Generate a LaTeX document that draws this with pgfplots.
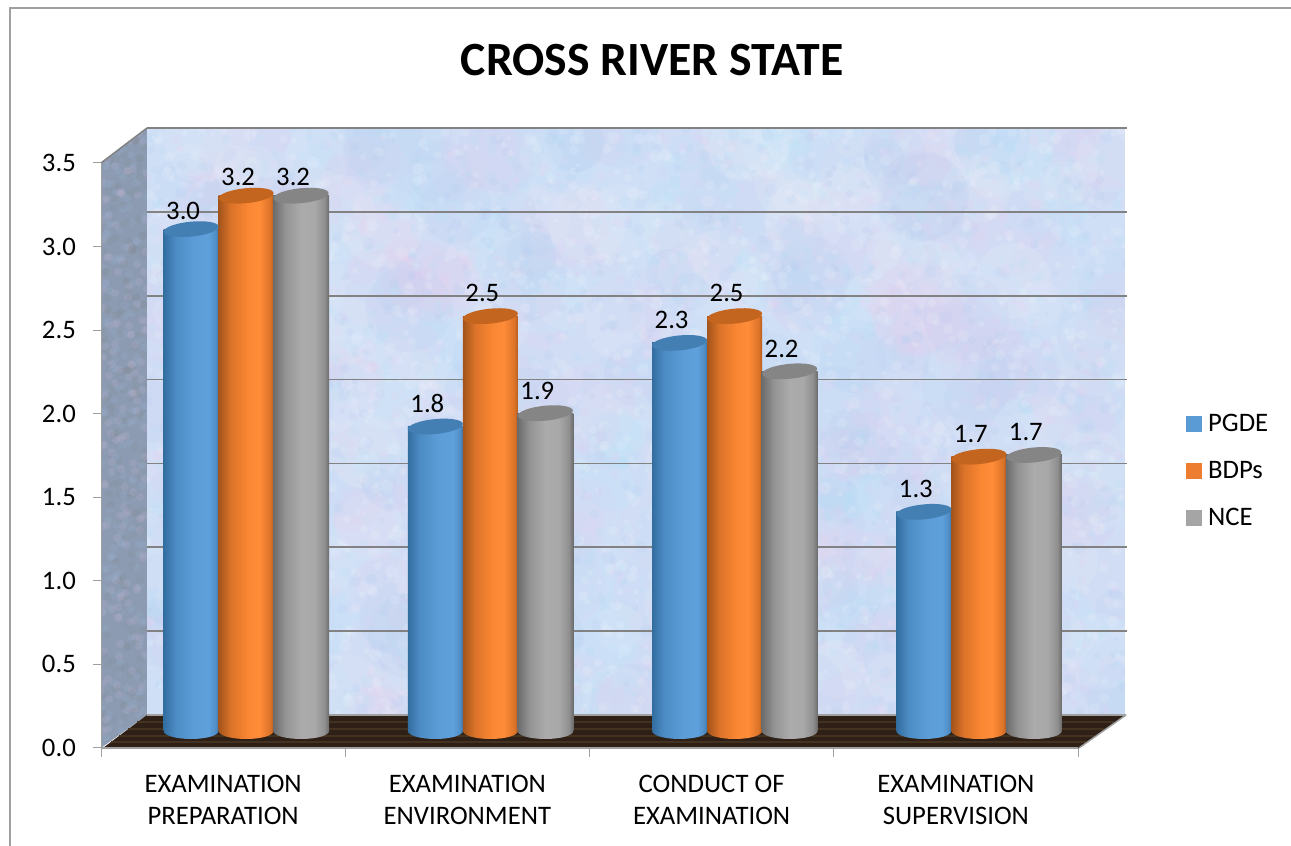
\documentclass[border=0pt]{standalone}
\usepackage{fontspec}
\setmainfont{Carlito}
\usepackage{pgfplots}
\usepackage{pgfplotstable}
\pgfplotsset{compat=1.18}
\definecolor{tickgray}{HTML}{A0A0A0}
\definecolor{gridgray}{HTML}{828282}
\definecolor{wallbase}{HTML}{CFDFF6}
\definecolor{wallcyan}{HTML}{ACE4F8}
\definecolor{wallpink}{HTML}{F0CDF0}
\definecolor{wallblue}{HTML}{A9C6F0}
\definecolor{sidebase}{HTML}{8C9BB2}
\definecolor{floorbrown}{HTML}{2E2016}
\definecolor{floorline}{HTML}{43321F}
\definecolor{legblue}{HTML}{5B9BD5}
\definecolor{legorange}{HTML}{ED7D31}
\definecolor{leggray}{HTML}{A5A5A5}
\definecolor{topblue}{HTML}{447FB4}
\definecolor{toporange}{HTML}{C4651F}
\definecolor{topgray}{HTML}{858585}
\pgfdeclarehorizontalshading{cylblue}{100bp}{
  rgb(0bp)=(0.20,0.43,0.63); rgb(25bp)=(0.20,0.43,0.63); rgb(36bp)=(0.30,0.55,0.77); rgb(52bp)=(0.36,0.61,0.84); rgb(66bp)=(0.37,0.63,0.86); rgb(72bp)=(0.32,0.56,0.78); rgb(75bp)=(0.24,0.47,0.67); rgb(100bp)=(0.24,0.47,0.67)}
\pgfdeclarehorizontalshading{cylorange}{100bp}{
  rgb(0bp)=(0.64,0.33,0.11); rgb(25bp)=(0.64,0.33,0.11); rgb(36bp)=(0.86,0.45,0.16); rgb(52bp)=(0.98,0.53,0.20); rgb(62bp)=(1.0,0.55,0.22); rgb(72bp)=(0.86,0.45,0.16); rgb(75bp)=(0.70,0.36,0.12); rgb(100bp)=(0.70,0.36,0.12)}
\pgfdeclarehorizontalshading{cylgray}{100bp}{
  rgb(0bp)=(0.42,0.42,0.42); rgb(25bp)=(0.42,0.42,0.42); rgb(36bp)=(0.58,0.58,0.58); rgb(50bp)=(0.67,0.67,0.67); rgb(62bp)=(0.66,0.66,0.66); rgb(71bp)=(0.56,0.56,0.56); rgb(75bp)=(0.42,0.42,0.42); rgb(100bp)=(0.42,0.42,0.42)}
\pgfdeclareplotmark{botblue}{\pgfpathellipse{\pgfpointorigin}{\pgfqpoint{27.5pt}{0pt}}{\pgfqpoint{0pt}{8pt}}\pgfshadepath{cylblue}{0}\pgfusepath{discard}}
\pgfdeclareplotmark{botorange}{\pgfpathellipse{\pgfpointorigin}{\pgfqpoint{27.5pt}{0pt}}{\pgfqpoint{0pt}{8pt}}\pgfshadepath{cylorange}{0}\pgfusepath{discard}}
\pgfdeclareplotmark{botgray}{\pgfpathellipse{\pgfpointorigin}{\pgfqpoint{28pt}{0pt}}{\pgfqpoint{0pt}{8pt}}\pgfshadepath{cylgray}{0}\pgfusepath{discard}}
\pgfdeclareplotmark{capell}{\pgfpathellipse{\pgfpointorigin}{\pgfqpoint{27.5pt}{2.5pt}}{\pgfqpoint{0pt}{7.5pt}}\pgfusepathqfill}
\pgfplotstableread{
x y lab dy
-0.2252 3.00 3.0 9
0.7748 1.82 1.8 14
1.7748 2.32 2.3 14
2.7748 1.31 1.3 14
}\tabpgde
\pgfplotstableread{
x y lab dy
0 3.20 3.2 10
1 2.48 2.5 14
2 2.48 2.5 14
3 1.64 1.7 14
}\tabbdp
\pgfplotstableread{
x y lab dy
0.2252 3.20 3.2 10
1.2252 1.90 1.9 13
2.2252 2.15 2.2 13
3.2252 1.65 1.7 14
}\tabnce
\newcount\sd \newcount\tmpc
\global\sd=1234
\def\nextrnd{\tmpc=\sd \multiply\tmpc 7141 \advance\tmpc 54773 \global\sd=\tmpc \divide\tmpc 259200 \multiply\tmpc 259200 \global\advance\sd -\tmpc}
\newcommand{\cylbar}[4]{%
  \addplot[forget plot,ybar,bar width=#3,bar shift=0pt,draw=none,shading=#2,restrict x to domain=#4] table[x=x,y=y]{#1};
}
\newcommand{\cyl}[5]{%
  \addplot[forget plot,only marks,mark=#2] table[x=x,y expr=0]{#1};
  \cylbar{#1}{#3}{#5}{-0.5:0.49}
  \cylbar{#1}{#3}{#5}{0.5:1.49}
  \cylbar{#1}{#3}{#5}{1.5:2.49}
  \cylbar{#1}{#3}{#5}{2.5:3.49}
  \addplot[forget plot,only marks,mark=capell,mark options={fill=#4,draw=none,color=#4},
    point meta=explicit symbolic,nodes near coords,
    visualization depends on={\thisrow{dy} \as \labdy},
    every node near coord/.style={font=\fontsize{26.7}{26.7}\selectfont,text=black,anchor=south,xshift=-8pt,yshift=\labdy pt,inner sep=0pt}]
    table[x=x,y=y,meta=lab]{#1};
}
\begin{document}
\begin{tikzpicture}[x=1pt,y=1pt]
\path[use as bounding box] (0,0) rectangle (1291,846);
% chart frame
\draw[tickgray,line width=2pt] (10,0) -- (10,838) -- (1291,838);
% back wall with mottled surface
\begin{scope}
\clip (147,131) rectangle (1125,718);
\fill[wallbase] (147,131) rectangle (1125,718);
\foreach \i in {1,...,600}{%
  \nextrnd \edef\bx{\the\numexpr147+978*\sd/259200\relax}%
  \nextrnd \edef\by{\the\numexpr131+587*\sd/259200\relax}%
  \nextrnd \edef\br{\the\numexpr14+32*\sd/259200\relax}%
  \nextrnd \edef\bc{\the\numexpr(5*\sd-129600)/259200\relax}%
  \ifcase\bc\def\cc{wallcyan}\or\def\cc{wallpink}\or\def\cc{white}\or\def\cc{wallblue}\or\def\cc{wallpink}\else\def\cc{white}\fi
  \fill[\cc,opacity=0.09] (\bx,\by) circle (\br);
}
\foreach \i in {1,...,3600}{%
  \nextrnd \edef\bx{\the\numexpr147+978*\sd/259200\relax}%
  \nextrnd \edef\by{\the\numexpr131+587*\sd/259200\relax}%
  \nextrnd \edef\br{\the\numexpr2+4*\sd/259200\relax}%
  \nextrnd \edef\bc{\the\numexpr(5*\sd-129600)/259200\relax}%
  \ifcase\bc\def\cc{wallcyan}\or\def\cc{wallpink}\or\def\cc{white}\or\def\cc{wallblue}\or\def\cc{white}\else\def\cc{white}\fi
  \fill[\cc,opacity=0.13] (\bx,\by) circle (\br);
}
\end{scope}
% side wall
\begin{scope}
\clip (101,98) -- (147,131) -- (147,718) -- (101,683) -- cycle;
\fill[sidebase] (101,98) rectangle (147,718);
\foreach \i in {1,...,500}{%
  \nextrnd \edef\bx{\the\numexpr101+46*\sd/259200\relax}%
  \nextrnd \edef\by{\the\numexpr98+620*\sd/259200\relax}%
  \nextrnd \edef\bc{\the\numexpr(3*\sd-129600)/259200\relax}%
  \ifcase\bc\def\cc{gray}\or\def\cc{wallpink}\or\def\cc{wallblue}\else\def\cc{gray}\fi
  \fill[\cc,opacity=0.1] (\bx,\by) circle (4);
}
\end{scope}
\draw[gridgray,line width=1.5pt] (101,683) -- (147,718);
% floor
\fill[floorbrown] (103,98) -- (147,131) -- (1126,131) -- (1079,98) -- cycle;
\foreach \yy/\xa/\xb in {104/111/1087,110/119/1095,117/128/1104,124/137/1114}{\draw[floorline,line width=1.2pt] (\xa,\yy) -- (\xb,\yy);}
\draw[tickgray,line width=1.5pt] (147,131) -- (1126,131);
\draw[tickgray,line width=1.5pt] (1079,98) -- (1126,131);
% back-wall gridlines
\begin{axis}[at={(147pt,131pt)},anchor=south west,scale only axis,width=980pt,height=587pt,
  xmin=0,xmax=1,ymin=0,ymax=3.5,xtick=\empty,ytick={0.5,1,1.5,2,2.5,3,3.5},
  ymajorgrids,grid style={gridgray,line width=1.6pt},major tick length=0pt,yticklabels={},
  axis line style={draw=none}]
\end{axis}
% bars, on the mid-depth plane
\begin{axis}[at={(124pt,115pt)},anchor=south west,scale only axis,width=977pt,height=585.5pt,
  xmin=-0.5,xmax=3.5,ymin=0,ymax=3.5,axis lines=none,clip=false,
  legend cell align=left,
  legend style={draw=none,fill=none,at={(1.0865,0.541)},anchor=north west,inner sep=0pt,
    font=\fontsize{26.7}{26.7}\selectfont,row sep=28pt,
    nodes={inner sep=0pt,anchor=west}},
  legend image code/.code={\fill[#1] (0pt,-7.5pt) rectangle (15pt,7.5pt);}]
\addlegendimage{legblue}
\addlegendentry{\hspace{7pt}PGDE}
\addlegendimage{legorange}
\addlegendentry{\hspace{7pt}BDPs}
\addlegendimage{leggray}
\addlegendentry{\hspace{7pt}NCE}
\cyl{\tabpgde}{botblue}{cylblue}{topblue}{55pt}
\cyl{\tabbdp}{botorange}{cylorange}{toporange}{55pt}
\cyl{\tabnce}{botgray}{cylgray}{topgray}{56pt}
\end{axis}
% front axis with ticks and labels
\begin{axis}[at={(101pt,98pt)},anchor=south west,scale only axis,width=977pt,height=585pt,
  xmin=-0.5,xmax=3.5,ymin=0,ymax=3.5,
  axis x line*=bottom,axis y line*=left,
  x axis line style={-,tickgray,line width=2.4pt},
  y axis line style={-,tickgray,line width=1pt},
  tick align=outside,
  xtick={0,1,2,3},
  xticklabels={{EXAMINATION\\PREPARATION},{EXAMINATION\\ENVIRONMENT},{CONDUCT OF\\EXAMINATION},{EXAMINATION\\SUPERVISION}},
  minor xtick={-0.5,0.5,1.5,2.5,3.5},
  major x tick style={draw=none},
  minor x tick style={tickgray,line width=1pt},
  minor tick length=9pt,
  ytick={0,0.5,1,1.5,2,2.5,3,3.5},
  y tick style={tickgray,line width=1pt},
  major tick length=8pt,
  xticklabel style={align=center,font=\fontsize{26.7}{32}\selectfont,yshift=-19pt,inner sep=0pt,text=black},
  yticklabel style={font=\fontsize{26.7}{26.7}\selectfont,xshift=-17pt,inner sep=0pt,text=black,
    /pgf/number format/fixed,/pgf/number format/fixed zerofill,/pgf/number format/precision=1,
    /pgf/number format/assume math mode=true},
  title={\bfseries CROSS RIVER STATE},
  title style={at={(0.564,1.0)},anchor=center,yshift=97pt,font=\fontsize{47.7}{47.7}\selectfont}]
\end{axis}
\end{tikzpicture}
\end{document}
